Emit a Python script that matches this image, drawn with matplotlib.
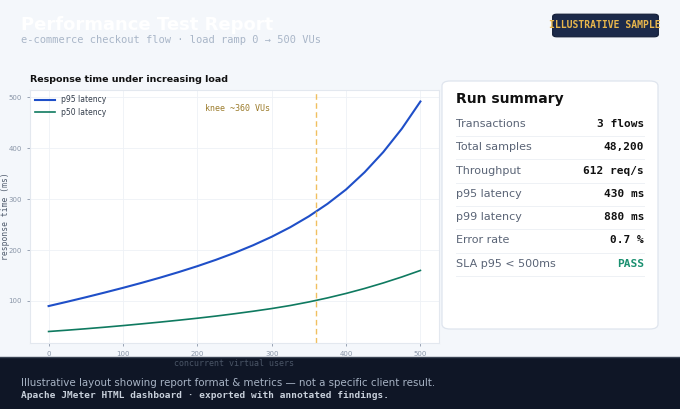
import matplotlib
matplotlib.use("Agg")
import matplotlib.pyplot as plt
from matplotlib.patches import FancyBboxPatch, Rectangle
from matplotlib.lines import Line2D

# ---- data ----
vus = [0, 25, 50, 75, 100, 125, 150, 175, 200, 225, 250, 275, 300, 325, 350, 375, 400, 425, 450, 475, 500]
p95 = [90, 98.5, 107.3, 116.4, 125.8, 135.6, 145.9, 156.8, 168.4, 180.9, 194.5, 209.5,
       226.2, 245.0, 266.4, 290.9, 319.1, 353.1, 392.6, 438.6, 492.1]
p50 = [40, 42.6, 45.4, 48.4, 51.6, 55.0, 58.5, 62.2, 66.1, 70.3, 74.9, 79.8,
       85.1, 91.1, 98.1, 106.0, 114.8, 124.6, 135.4, 147.2, 160.0]
knee_vu = 360
knee_label = "knee ~360 VUs"
x_ticks = [0, 100, 200, 300, 400, 500]
y_ticks = [100, 200, 300, 400, 500]

summary_labels = ["Transactions", "Total samples", "Throughput", "p95 latency",
                  "p99 latency", "Error rate", "SLA p95 < 500ms"]
summary_values = ["3 flows", "48,200", "612 req/s", "430 ms", "880 ms", "0.7 %", "PASS"]

title = "Performance Test Report"
subtitle = "e-commerce checkout flow \u00b7 load ramp 0 \u2192 500 VUs"
badge = "ILLUSTRATIVE SAMPLE"
chart_title = "Response time under increasing load"
footer1 = "Illustrative layout showing report format & metrics \u2014 not a specific client result."
footer2 = "Apache JMeter HTML dashboard \u00b7 exported with annotated findings."

W, H = 680, 409
fig = plt.figure(figsize=(W / 100, H / 100), dpi=100)
fig.patch.set_facecolor("#f4f7fb")

def fx(px):
    return px / W

def fy(py):
    return 1 - py / H

# header
fig.text(fx(21), fy(25), title, color="white", fontsize=13, fontweight="bold",
         va="center", ha="left", family="DejaVu Sans")
fig.text(fx(21), fy(40), subtitle, color="#a9b6c8", fontsize=7.5,
         va="center", ha="left", family="DejaVu Sans Mono")

# badge
fig.patches.append(FancyBboxPatch((fx(554), fy(36)), fx(103), fy(15) - fy(36),
                                  boxstyle="round,pad=0.002,rounding_size=0.006",
                                  transform=fig.transFigure, facecolor="#1c2a4a",
                                  edgecolor="#0f1a33", linewidth=0.8))
fig.text(fx(605), fy(25), badge, color="#e8b64c", fontsize=7, fontweight="bold",
         va="center", ha="center", family="DejaVu Sans Mono")

# footer band (behind axes so the x label stays visible)
fig.patches.append(Rectangle((0, 0), 1, fy(357), transform=fig.transFigure,
                             facecolor="#0f1626", edgecolor="none", zorder=-1))
fig.lines.append(Line2D([0, 1], [fy(357), fy(357)], transform=fig.transFigure,
                        color="#3a4454", lw=1.0, zorder=-0.5))

# chart
ax = fig.add_axes([fx(30), fy(343), fx(439) - fx(30), fy(90) - fy(343)])
ax.set_facecolor("white")
ax.plot(vus, p95, color="#1f4fc8", lw=1.5, label="p95 latency", solid_joinstyle="round")
ax.plot(vus, p50, color="#0f7a60", lw=1.2, label="p50 latency", solid_joinstyle="round")
ax.axvline(knee_vu, color="#f0c060", lw=1, ls=(0, (4, 2.5)))
ax.text(210, 478, knee_label, color="#9c7c2c", fontsize=6, family="DejaVu Sans Mono",
        ha="left", va="center")
ax.set_xticks(x_ticks)
ax.set_yticks(y_ticks)
ax.margins(x=0.05, y=0.05)
ax.grid(True, color="#eef1f6", lw=0.6)
ax.set_axisbelow(True)
for s in ax.spines.values():
    s.set_color("#e3e8ef")
    s.set_linewidth(0.8)
ax.tick_params(labelsize=5, colors="#8a96a8", length=2.5, width=0.6)
ax.set_ylabel("response time (ms)", family="DejaVu Sans Mono", fontsize=5.8, color="#4f5b6d")
ax.yaxis.set_label_coords(-0.05, 0.5)
ax.set_xlabel("concurrent virtual users", family="DejaVu Sans Mono", fontsize=6, color="#4a5566", labelpad=1)
ax.legend(loc="upper left", frameon=False, fontsize=5.5, handlelength=2.6,
          labelcolor="#333d4b", borderaxespad=0.3, labelspacing=0.45)
fig.text(fx(30), fy(79), chart_title, fontsize=6.8, fontweight="bold", color="#111111",
         va="center", ha="left")

fig.text(fx(21), fy(383), footer1, color="#a7b3c4", fontsize=7.4, va="center", ha="left")
fig.text(fx(21), fy(396), footer2, color="#c8d0db", fontsize=6.8, fontweight="bold",
         va="center", ha="left", family="DejaVu Sans Mono")

# summary card
fig.patches.append(FancyBboxPatch((fx(442), fy(329)), fx(216), fy(81) - fy(329),
                                  boxstyle="round,pad=0,rounding_size=0.012",
                                  transform=fig.transFigure, facecolor="white",
                                  edgecolor="#dfe5ee", linewidth=0.9))
fig.text(fx(456), fy(99), "Run summary", fontsize=10, fontweight="bold", color="#111111",
         va="center", ha="left")
row0, dy = 124, 23.3
for i, (lab, val) in enumerate(zip(summary_labels, summary_values)):
    yc = row0 + i * dy
    fig.text(fx(456), fy(yc), lab, fontsize=8, color="#5a6476", va="center", ha="left")
    fig.text(fx(644), fy(yc), val, fontsize=8, fontweight="bold",
             color="#1a9070" if val == "PASS" else "#111111",
             va="center", ha="right", family="DejaVu Sans Mono")
    fig.lines.append(Line2D([fx(456), fx(644)], [fy(yc + 12), fy(yc + 12)],
                            transform=fig.transFigure, color="#eef1f5", lw=0.7))

fig.savefig("out.png", dpi=100, facecolor=fig.get_facecolor())
